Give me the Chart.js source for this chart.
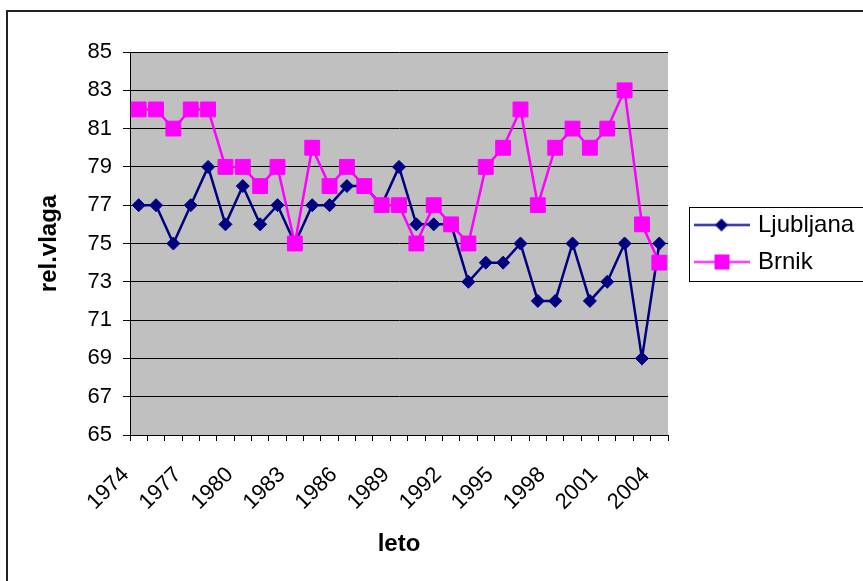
<!DOCTYPE html>
<html lang="sl">
<head>
<meta charset="UTF-8">
<title>Relativna vlaga - Ljubljana in Brnik</title>
<script src="https://cdn.jsdelivr.net/npm/chart.js"></script>
<style>
  body { margin: 0; background: #fff; }
  canvas { display: block; }
</style>
</head>
<body>
<canvas id="vlagaChart" width="863" height="581"></canvas>
<script>
// data
const years = ['1974', '1975', '1976', '1977', '1978', '1979', '1980', '1981', '1982', '1983',
               '1984', '1985', '1986', '1987', '1988', '1989', '1990', '1991', '1992', '1993',
               '1994', '1995', '1996', '1997', '1998', '1999', '2000', '2001', '2002', '2003', '2004'];
const ljubljana = [77, 77, 75, 77, 79, 76, 78, 76, 77, 75, 77, 77, 78, 78, 77, 79,
                   76, 76, 76, 73, 74, 74, 75, 72, 72, 75, 72, 73, 75, 69, 75];
const brnik = [82, 82, 81, 82, 82, 79, 79, 78, 79, 75, 80, 78, 79, 78, 77, 77,
               75, 77, 76, 75, 79, 80, 82, 77, 80, 81, 80, 81, 83, 76, 74];
const yMin = 65;
const yMax = 85;
const yStep = 2;

const FONT = '"Liberation Sans", Arial, sans-serif';
const NAVY = '#000080';
const MAGENTA = '#ff00ff';

// little line + marker picture for the legend
function legendSymbol(color, shape) {
    const c = document.createElement('canvas');
    c.width = 56;
    c.height = 17;
    const g = c.getContext('2d');
    g.strokeStyle = color;
    g.lineWidth = 2;
    g.beginPath();
    g.moveTo(0, 8.5);
    g.lineTo(56, 8.5);
    g.stroke();
    g.fillStyle = color;
    if (shape === 'diamond') {
        g.beginPath();
        g.moveTo(28, 2);
        g.lineTo(34.5, 8.5);
        g.lineTo(28, 15);
        g.lineTo(21.5, 8.5);
        g.closePath();
        g.fill();
    } else {
        g.fillRect(21, 1, 15, 15);
    }
    return c;
}
const symbols = [legendSymbol(NAVY, 'diamond'), legendSymbol(MAGENTA, 'square')];

// grey plot area
const plotBackground = {
    id: 'plotBackground',
    beforeDraw(chart) {
        const { ctx, chartArea: a } = chart;
        ctx.save();
        ctx.fillStyle = '#c0c0c0';
        ctx.fillRect(a.left, a.top, a.right - a.left, a.bottom - a.top);
        ctx.restore();
    }
};

// fixed legend width, framed legend and outer frame
const frames = {
    id: 'frames',
    beforeLayout(chart) {
        const lg = chart.legend;
        if (lg && !lg.widthFixed) {
            const fit = lg.fit;
            lg.fit = function () {
                fit.call(this);
                this.width = 195;
            };
            lg.widthFixed = true;
        }
    },
    afterLayout(chart) {
        const lg = chart.legend;
        lg.left += 16;
        lg.right += 16;
    },
    afterDraw(chart) {
        const { ctx, chartArea: a } = chart;
        ctx.save();
        ctx.strokeStyle = '#000';
        ctx.lineWidth = 1;
        ctx.strokeRect(a.right + 21.5, 207.5, 200, 74);
        ctx.lineWidth = 2;
        ctx.strokeStyle = '#222';
        ctx.strokeRect(7, 11, 900, 700);
        ctx.restore();
    }
};

const ctx = document.getElementById('vlagaChart').getContext('2d');
const chart = new Chart(ctx, {
    type: 'line',
    data: {
        labels: years,
        datasets: [
            {
                label: 'Ljubljana',
                data: ljubljana,
                borderColor: NAVY,
                backgroundColor: NAVY,
                borderWidth: 2.5,
                pointStyle: 'rectRot',
                pointRadius: 6.5,
                pointHoverRadius: 6.5,
                pointBorderWidth: 1,
                tension: 0,
                order: 2
            },
            {
                label: 'Brnik',
                data: brnik,
                borderColor: MAGENTA,
                backgroundColor: MAGENTA,
                borderWidth: 2.5,
                pointStyle: 'rect',
                pointRadius: 10.5,
                pointHoverRadius: 10.5,
                pointBorderWidth: 1,
                tension: 0,
                order: 1
            }
        ]
    },
    options: {
        responsive: false,
        animation: false,
        layout: { padding: { left: 20, top: 52, right: 0, bottom: 22 } },
        plugins: {
            tooltip: { enabled: false },
            legend: {
                position: 'right',
                fullSize: false,
                labels: {
                    usePointStyle: true,
                    pointStyleWidth: 49,
                    padding: 13,
                    color: '#000',
                    font: { family: FONT, size: 24 },
                    generateLabels(chart) {
                        return chart.data.datasets.map((ds, i) => ({
                            text: ds.label,
                            pointStyle: symbols[i],
                            fillStyle: ds.borderColor,
                            strokeStyle: ds.borderColor,
                            lineWidth: 0,
                            hidden: false,
                            datasetIndex: i
                        }));
                    }
                }
            }
        },
        scales: {
            x: {
                offset: true,
                grid: { offset: true, drawOnChartArea: false, color: '#000', tickLength: 6 },
                border: { color: '#000' },
                ticks: {
                    autoSkip: false,
                    minRotation: 45,
                    maxRotation: 45,
                    padding: 21,
                    labelOffset: -13,
                    color: '#000',
                    font: { family: FONT, size: 22 },
                    callback(value, index) {
                        return index % 3 === 0 ? years[index] : '';
                    }
                },
                title: {
                    display: true,
                    text: 'leto',
                    color: '#000',
                    font: { family: FONT, size: 24, weight: 'bold' },
                    padding: { top: 4, bottom: 0 }
                },
                afterFit(scale) { scale.height = 124; }
            },
            y: {
                min: yMin,
                max: yMax,
                grid: { color: '#000', tickLength: 7 },
                border: { color: '#000' },
                ticks: {
                    stepSize: yStep,
                    padding: 11,
                    color: '#000',
                    font: { family: FONT, size: 22 }
                },
                title: {
                    display: true,
                    text: 'rel.vlaga',
                    color: '#000',
                    font: { family: FONT, size: 24, weight: 'bold' },
                    padding: { top: 15, bottom: 0 }
                },
                afterFit(scale) { scale.width = 110; }
            }
        }
    },
    plugins: [plotBackground, frames]
});
</script>
</body>
</html>
